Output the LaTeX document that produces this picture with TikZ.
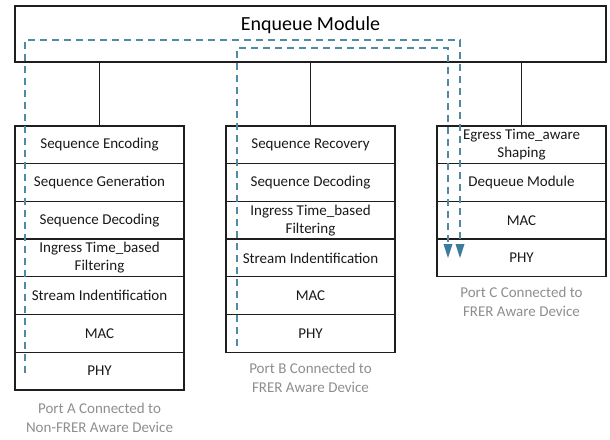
\documentclass[tikz,border=0pt]{standalone}
\usepackage{fontspec}
\setmainfont{Carlito}
\usetikzlibrary{arrows.meta}
\definecolor{boxline}{HTML}{1E1E1E}
\definecolor{flow}{HTML}{4F8BA6}
\definecolor{flowtip}{HTML}{3A7C9C}
\definecolor{portgray}{HTML}{8E8E8E}
\tikzset{
  rowbox/.style={draw=boxline, line width=1.3pt, minimum width=169pt, minimum height=37.7pt,
    inner sep=0pt, align=center, font=\fontsize{15}{18}\selectfont, text=black!90},
  enqbox/.style={draw=boxline, line width=1.3pt, minimum width=591pt, minimum height=56pt, inner sep=0pt},
  link/.style={draw=boxline, line width=1.1pt},
  flowline/.style={draw=flow, line width=1.6pt, dash pattern=on 7pt off 5pt,
    -{Triangle[length=14pt,width=9pt,fill=flowtip,line width=0pt]}},
  portlabel/.style={align=center, font=\fontsize{15}{19}\selectfont, text=portgray}
}
\begin{document}
\begin{tikzpicture}[x=1pt,y=-1pt]
\useasboundingbox (0,0) rectangle (610,439);
% Enqueue module
\node[enqbox] (enq) at (310.5,34) {};
\node[font=\fontsize{20}{24}\selectfont] (enqtext) at (310.5,25) {Enqueue Module};
% Column A
\node[rowbox] (a1) at (99.5,144.85) {Sequence Encoding};
\node[rowbox] (a2) at (99.5,182.55) {Sequence Generation};
\node[rowbox] (a3) at (99.5,220.25) {Sequence Decoding};
\node[rowbox] (a4) at (99.5,257.95) {Ingress Time\_based\\Filtering};
\node[rowbox] (a5) at (99.5,295.65) {Stream Indentification};
\node[rowbox] (a6) at (99.5,333.35) {MAC};
\node[rowbox] (a7) at (99.5,371.05) {PHY};
\node[portlabel] (pa) at (99.5,417.5) {Port A Connected to\\Non-FRER Aware Device};
% Column B
\node[rowbox] (b1) at (310.5,144.85) {Sequence Recovery};
\node[rowbox] (b2) at (310.5,182.55) {Sequence Decoding};
\node[rowbox] (b3) at (310.5,220.25) {Ingress Time\_based\\Filtering};
\node[rowbox] (b4) at (310.5,257.95) {Stream Indentification};
\node[rowbox] (b5) at (310.5,295.65) {MAC};
\node[rowbox] (b6) at (310.5,333.35) {PHY};
\node[portlabel] (pb) at (310.5,377.5) {Port B Connected to\\FRER Aware Device};
% Column C
\node[rowbox] (c1) at (521.5,144.85) {Egress Time\_aware\\Shaping};
\node[rowbox] (c2) at (521.5,182.55) {Dequeue Module};
\node[rowbox] (c3) at (521.5,220.25) {MAC};
\node[rowbox] (c4) at (521.5,257.95) {PHY};
\node[portlabel] (pc) at (521.5,302) {Port C Connected to\\FRER Aware Device};
% connectors
\draw[link] (enq.south -| a1.north) -- (a1.north);
\draw[link] (enq.south -| b1.north) -- (b1.north);
\draw[link] (enq.south -| c1.north) -- (c1.north);
% flow paths
\coordinate (fa) at (25,373);
\coordinate (fb) at (237,346);
\coordinate (ta) at (460,258);
\coordinate (tb) at (448,258);
\draw[flowline] (fa) -- (25,40) -- (460,40) -- (ta);
\draw[flowline] (fb) -- (237,48) -- (448,48) -- (tb);
\end{tikzpicture}
\end{document}
